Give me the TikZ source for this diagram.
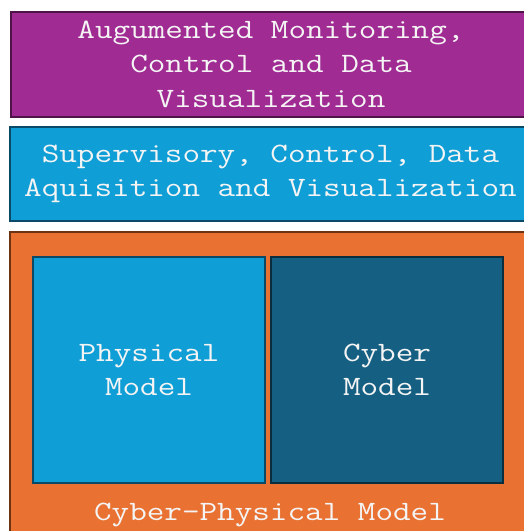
\documentclass[tikz,border=0pt]{standalone}
\usepackage{fontspec}
\setmonofont{Latin Modern Mono}[FakeStretch=1.22]
\definecolor{cpurple}{HTML}{A02B93}
\definecolor{cpurpleD}{HTML}{4E1447}
\definecolor{cblue}{HTML}{0F9ED5}
\definecolor{cblueD}{HTML}{0B4A66}
\definecolor{corange}{HTML}{E97132}
\definecolor{corangeD}{HTML}{6E3313}
\definecolor{cdark}{HTML}{156082}
\definecolor{cdarkD}{HTML}{0B2E3F}
\definecolor{ctext}{HTML}{F4F4F4}
\tikzset{
  layer/.style={draw, line width=2pt, inner sep=0pt, outer sep=0pt, align=center,
    text=ctext, font=\ttfamily\fontsize{28}{34.5}\selectfont},
  lbl/.style={text=ctext, font=\ttfamily\fontsize{28}{34.5}\selectfont, align=center, inner sep=0pt}
}
\begin{document}
\begin{tikzpicture}[x=1pt,y=1pt]
\useasboundingbox (0,0) rectangle (524,-531);
\fill[white] (0,0) rectangle (524,-531);
\clip (0,0) rectangle (524,-531);
\node[layer, fill=cpurple, draw=cpurpleD, minimum width=520, minimum height=105] (top) at (271,-64)
  {Augumented Monitoring,\\Control and Data\\Visualization};
\node[layer, fill=cblue, draw=cblueD, minimum width=521, minimum height=94] (scada) at (270.5,-174)
  {Supervisory, Control, Data\\Aquisition and Visualization};
\node[layer, fill=corange, draw=corangeD, minimum width=521, minimum height=320] (cps) at (270.5,-392) {};
\node[layer, fill=cblue, draw=cblueD, minimum width=232, minimum height=226] (phys) at (149,-370)
  {Physical\\Model};
\node[layer, fill=cdark, draw=cdarkD, minimum width=232, minimum height=226] (cyber) at (387,-370)
  {Cyber\\Model};
\node[lbl] (cpslbl) at (270,-515) {Cyber-Physical Model};
\end{tikzpicture}
\end{document}
